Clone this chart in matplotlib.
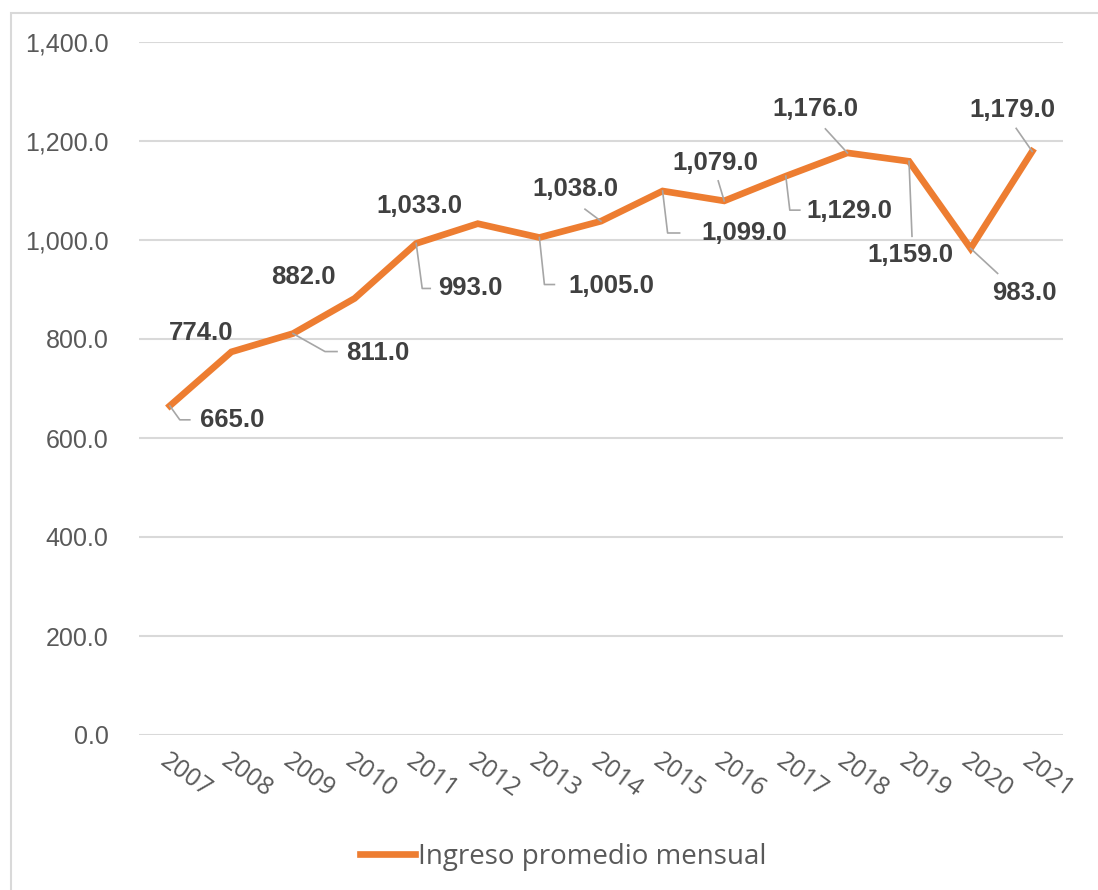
import numpy as np
import matplotlib
matplotlib.use("Agg")
from matplotlib import pyplot as plt
from matplotlib.patches import Rectangle
from matplotlib.lines import Line2D
from matplotlib.transforms import IdentityTransform

# DATA
years = ["2007", "2008", "2009", "2010", "2011", "2012", "2013", "2014",
         "2015", "2016", "2017", "2018", "2019", "2020", "2021"]
ingreso = [665, 774, 811, 882, 993, 1033, 1005, 1038,
           1099, 1079, 1129, 1176, 1159, 983, 1179]
series_name = "Ingreso promedio mensual"

# label placement (pixel offsets from each point, y up) and leader line vertices
label_offsets = [(62, -14), (-30, 19), (85, -19), (-51, 21), (54, -45),
                 (-58, 18), (72, -48), (-26, 32), (82, -42), (-9, 38),
                 (64, -35), (-32, 44), (1, -94), (54, -45), (-20, 41)]
leaders = [[(10, -14), (20, -14)], None, [(32, -18), (44, -18)], None,
           [(6, -45), (14, -45)], None, [(5, -47), (15, -47)], [(-16, 12)],
           [(5, -42), (17, -42)], [(-6, 20)], [(4, -34), (14, -34)],
           [(-22, 24)], [(3, -75)], [(27, -25)], [(-16, 23)]]

orange = "#ED7D31"
grid_gray = "#D9D9D9"
text_gray = "#595959"
label_gray = "#404040"

fig = plt.figure(figsize=(10.98, 8.9), dpi=100)
ax = fig.add_axes([139 / 1098, 155 / 890, 924 / 1098, 693 / 890])

x = np.arange(len(years))
ax.plot(x, ingreso, color=orange, lw=4.8, solid_joinstyle="miter", zorder=3,
        label=series_name)

ax.set_xlim(-0.5, len(years) - 0.5)
ax.set_ylim(0, 1400)
ax.set_yticks(np.arange(0, 1401, 200))
ax.set_yticklabels([f"{v:,.1f}" for v in np.arange(0, 1401, 200)],
                   family="Liberation Sans", fontsize=18, color=text_gray)
ax.set_xticks(x)
ax.set_xticklabels(years, family="Open Sans", fontsize=18, color=text_gray,
                   rotation=-36, ha="left", va="top", rotation_mode="anchor")
ax.tick_params(axis="both", length=0)
ax.tick_params(axis="y", pad=22)
ax.tick_params(axis="x", pad=10)
ax.grid(axis="y", color=grid_gray, lw=1.5)
ax.set_axisbelow(True)
for s in ax.spines.values():
    s.set_visible(False)

# data labels
for i, v in enumerate(ingreso):
    ax.annotate(f"{v:,.1f}", (x[i], v), xytext=label_offsets[i],
                textcoords="offset pixels", ha="center", va="center",
                family="Liberation Sans", fontweight="bold", fontsize=18.5,
                color=label_gray, zorder=4)

# leader lines
for i, v in enumerate(ingreso):
    if leaders[i] is None:
        continue
    px, py = ax.transData.transform((x[i], v))
    xs = [px] + [px + d[0] for d in leaders[i]]
    ys = [py] + [py + d[1] for d in leaders[i]]
    fig.add_artist(Line2D(xs, ys, transform=IdentityTransform(),
                          color="#A6A6A6", lw=1.2, zorder=2))

# legend
leg = fig.legend(loc="center", bbox_to_anchor=(563 / 1098, 1 - 857 / 890),
                 frameon=False, handlelength=2.0, handletextpad=0.1,
                 prop={"family": "Open Sans", "size": 20})
for t in leg.get_texts():
    t.set_color(text_gray)

# chart border
fig.patches.append(Rectangle((11 / 1098, -0.1), 1.2, 1.1 - 13 / 890,
                             transform=fig.transFigure, fill=False,
                             edgecolor=grid_gray, lw=1.5))

fig.savefig("out.png", dpi=100)
